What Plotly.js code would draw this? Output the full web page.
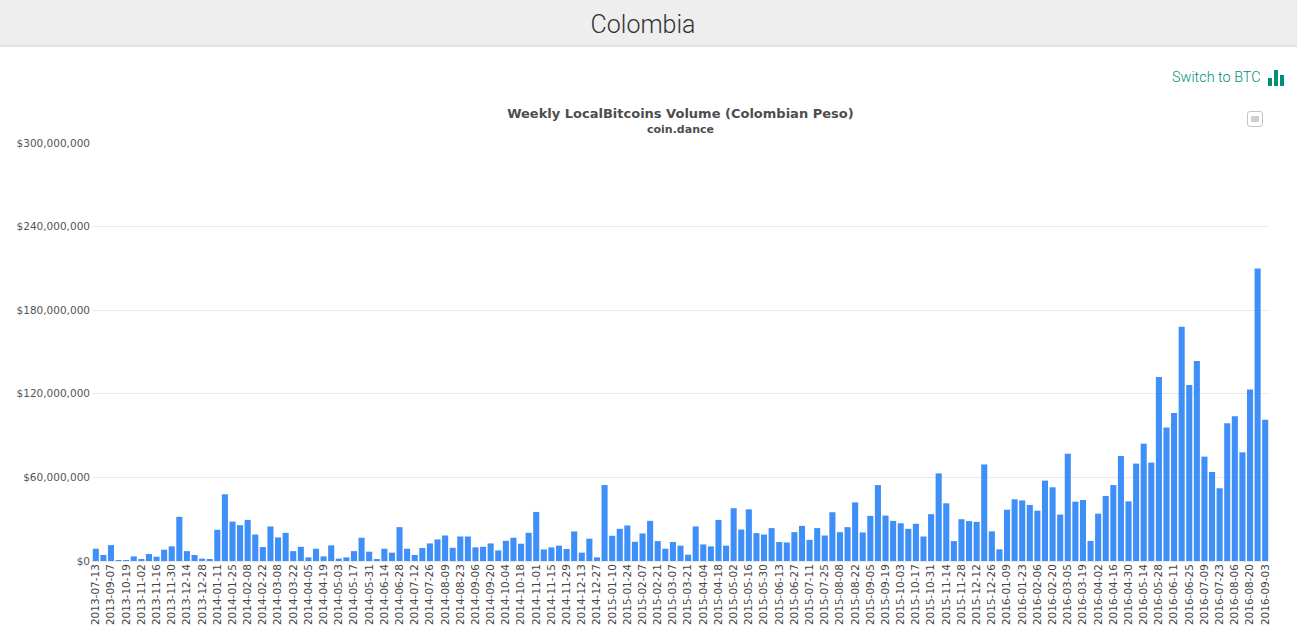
<!DOCTYPE html>
<html>
<head>
<meta charset="utf-8">
<script src="https://cdn.plot.ly/plotly-3.0.1.min.js"></script>
<style>
  html, body { margin: 0; padding: 0; background: #fff; overflow: hidden; }
  #header {
    position: absolute; left: 0; top: 0; width: 1286px; height: 46px; padding-right: 11px;
    background: #eeeeee; border-bottom: 1px solid #e2e2e2;
    box-shadow: inset 0 -3px 3px -2px #e0e0e0;
    text-align: center; line-height: 49px;
    font-family: Roboto, sans-serif; font-weight: 300; font-size: 25px; color: #333;
    z-index: 2;
  }
  #r1c1 { position: absolute; left: 0; top: 0; width: 1297px; height: 639px; }
  #switch {
    position: absolute; left: 1172px; top: 69px; z-index: 2;
    font-family: Roboto, sans-serif; font-weight: 300; font-size: 14.4px; color: #00907a;
  }
  .ico { position: absolute; background: #00907a; width: 4px; z-index: 2; }
  #menu {
    position: absolute; left: 1247px; top: 111px; width: 14px; height: 14px; z-index: 2;
    border: 1px solid #c4c4c4; border-radius: 3px; background: #fff;
  }
  #menu div { position: absolute; left: 3px; top: 4px; width: 8px; height: 6px; background: #cfcfcf; }
</style>
</head>
<body>
<div id="header">Colombia</div>
<div id="switch">Switch to BTC</div>
<div class="ico" style="left:1268px;top:78px;height:8px"></div>
<div class="ico" style="left:1274px;top:70px;height:16px"></div>
<div class="ico" style="left:1280px;top:75px;height:11px"></div>
<div id="menu"><div></div></div>
<div id="r1c1"></div>
<script>
r1c1 = document.getElementById("r1c1");

var weeks2013 = ["2013-07-13", "2013-08-31", "2013-09-07", "2013-10-12", "2013-10-19", "2013-10-26", "2013-11-02", "2013-11-09", "2013-11-16", "2013-11-23", "2013-11-30", "2013-12-07", "2013-12-14", "2013-12-21", "2013-12-28"];
var weeks2014 = ["2014-01-04", "2014-01-11", "2014-01-18", "2014-01-25", "2014-02-01", "2014-02-08", "2014-02-15", "2014-02-22", "2014-03-01", "2014-03-08", "2014-03-15", "2014-03-22", "2014-03-29", "2014-04-05", "2014-04-12", "2014-04-19", "2014-04-26", "2014-05-03", "2014-05-10", "2014-05-17", "2014-05-24", "2014-05-31", "2014-06-07", "2014-06-14", "2014-06-21", "2014-06-28", "2014-07-05", "2014-07-12", "2014-07-19", "2014-07-26", "2014-08-02", "2014-08-09", "2014-08-16", "2014-08-23", "2014-08-30", "2014-09-06", "2014-09-13", "2014-09-20", "2014-09-27", "2014-10-04", "2014-10-11", "2014-10-18", "2014-10-25", "2014-11-01", "2014-11-08", "2014-11-15", "2014-11-22", "2014-11-29", "2014-12-06", "2014-12-13", "2014-12-20", "2014-12-27"];
var weeks2015 = ["2015-01-03", "2015-01-10", "2015-01-17", "2015-01-24", "2015-01-31", "2015-02-07", "2015-02-14", "2015-02-21", "2015-02-28", "2015-03-07", "2015-03-14", "2015-03-21", "2015-03-28", "2015-04-04", "2015-04-11", "2015-04-18", "2015-04-25", "2015-05-02", "2015-05-09", "2015-05-16", "2015-05-23", "2015-05-30", "2015-06-06", "2015-06-13", "2015-06-20", "2015-06-27", "2015-07-04", "2015-07-11", "2015-07-18", "2015-07-25", "2015-08-01", "2015-08-08", "2015-08-15", "2015-08-22", "2015-08-29", "2015-09-05", "2015-09-12", "2015-09-19", "2015-09-26", "2015-10-03", "2015-10-10", "2015-10-17", "2015-10-24", "2015-10-31", "2015-11-07", "2015-11-14", "2015-11-21", "2015-11-28", "2015-12-05", "2015-12-12", "2015-12-19", "2015-12-26"];
var weeks2016 = ["2016-01-02", "2016-01-09", "2016-01-16", "2016-01-23", "2016-01-30", "2016-02-06", "2016-02-13", "2016-02-20", "2016-02-27", "2016-03-05", "2016-03-12", "2016-03-19", "2016-03-26", "2016-04-02", "2016-04-09", "2016-04-16", "2016-04-23", "2016-04-30", "2016-05-07", "2016-05-14", "2016-05-21", "2016-05-28", "2016-06-04", "2016-06-11", "2016-06-18", "2016-06-25", "2016-07-02", "2016-07-09", "2016-07-16", "2016-07-23", "2016-07-30", "2016-08-06", "2016-08-13", "2016-08-20", "2016-08-27", "2016-09-03"];

// millions of pesos
var vol2013 = [8.8, 4.3, 11.4, 0.2, 0.2, 3.3, 1.0, 5.0, 3.1, 8.1, 10.5, 31.7, 7.1, 4.3, 1.7];
var vol2014 = [1.0, 22.4, 47.9, 28.3, 25.7, 29.5, 19.0, 10.0, 24.8, 16.9, 20.2, 7.1, 10.2, 2.6, 8.8, 3.3, 11.2, 1.7, 2.6, 7.1, 16.7, 6.7, 1.4, 8.8, 6.0, 24.3, 8.8, 4.3, 9.3, 12.6, 15.5, 18.3, 9.5, 17.6, 17.6, 9.8, 10.2, 12.6, 7.6, 14.5, 16.7, 12.4, 20.2, 35.2, 8.3, 9.8, 11.0, 8.6, 21.2, 6.0, 16.0, 2.6];
var vol2015 = [54.5, 18.1, 23.1, 25.5, 13.8, 19.8, 28.8, 14.3, 8.8, 13.6, 11.0, 4.5, 24.8, 11.9, 10.5, 29.5, 11.0, 37.9, 22.6, 37.1, 20.0, 19.0, 23.6, 13.6, 13.3, 20.7, 25.2, 15.2, 23.6, 18.3, 35.0, 20.7, 24.3, 42.1, 20.5, 32.4, 54.5, 32.6, 28.8, 27.1, 23.1, 26.7, 17.6, 33.6, 62.9, 41.4, 14.3, 30.0, 28.6, 28.1, 69.3, 21.3];
var vol2016 = [8.4, 36.8, 44.3, 43.5, 40.2, 36.1, 57.7, 52.9, 33.3, 77.0, 42.6, 43.8, 14.4, 34.0, 46.7, 54.5, 75.4, 42.8, 69.9, 84.2, 70.6, 132.0, 95.9, 106.2, 168.2, 126.3, 143.5, 74.9, 63.9, 52.2, 98.8, 103.8, 78.0, 123.0, 210.0, 101.4];

var categories = weeks2013.concat(weeks2014, weeks2015, weeks2016);
var volume = vol2013.concat(vol2014, vol2015, vol2016).map(function (v) {
  return v * 1000000;
});

var data = [
  {
    x: categories,
    y: volume,
    type: "bar",
    marker: {
      color: "#2f87f6",
      opacity: 0.93,
    },
  },
];

var layout = {
  width: 1297,
  height: 639,
  margin: { l: 92, r: 28, t: 143, b: 78 },
  paper_bgcolor: "rgba(0,0,0,0)",
  plot_bgcolor: "rgba(0,0,0,0)",
  bargap: 0.2,
  showlegend: false,
  font: { family: "DejaVu Sans", size: 11, color: "#555" },
  title: {
    text: "<b>Weekly LocalBitcoins Volume (Colombian Peso)</b>",
    font: { family: "DejaVu Sans", size: 13, color: "#4d4d4d" },
    x: 0.5246,
    xanchor: "center",
    y: 0.822,
    yanchor: "middle",
  },
  annotations: [
    {
      text: "<b>coin.dance</b>",
      xref: "paper",
      yref: "paper",
      x: 0.5,
      y: 1.0,
      xanchor: "center",
      yanchor: "bottom",
      yshift: 5,
      showarrow: false,
      font: { family: "DejaVu Sans", size: 11, color: "#4d4d4d" },
    },
  ],
  xaxis: {
    type: "category",
    tickmode: "linear",
    tick0: 0,
    dtick: 2,
    tickangle: -90,
    ticks: "",
    ticklen: 0,
    showgrid: false,
    showline: false,
    zeroline: false,
    automargin: false,
    tickfont: { family: "DejaVu Sans", size: 10.5, color: "#444" },
  },
  yaxis: {
    range: [0, 300000000],
    tickmode: "linear",
    tick0: 0,
    dtick: 60000000,
    tickprefix: "$",
    tickformat: ",d",
    ticks: "",
    ticklabelstandoff: 1,
    gridcolor: "#e9e9e9",
    gridwidth: 1,
    zeroline: true,
    zerolinecolor: "#e9e9e9",
    automargin: false,
    tickfont: { family: "DejaVu Sans", size: 10.5, color: "#555" },
  },
};

Plotly.newPlot(r1c1, data, layout, { displayModeBar: false });
</script>
</body>
</html>
